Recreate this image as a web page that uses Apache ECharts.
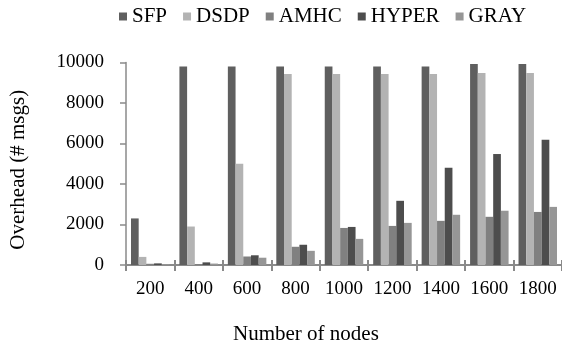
<!DOCTYPE html>
<html>
<head>
<meta charset="utf-8">
<script src="https://cdn.jsdelivr.net/npm/echarts@6/dist/echarts.min.js"></script>
<style>
html,body{margin:0;padding:0;background:#fff;}
#c{width:562px;height:345px;}
</style>
</head>
<body>
<div id="c"></div>
<script>
const categories = ['200','400','600','800','1000','1200','1400','1600','1800'];
const seriesNames = ['SFP','DSDP','AMHC','HYPER','GRAY'];
const SFP   = [2300, 9800, 9800, 9800, 9800, 9800, 9800, 9920, 9920];
const DSDP  = [400, 1900, 5000, 9430, 9430, 9430, 9430, 9480, 9480];
const AMHC  = [60, 50, 420, 900, 1830, 1930, 2180, 2380, 2620];
const HYPER = [80, 130, 480, 1000, 1880, 3170, 4800, 5480, 6180];
const GRAY  = [40, 70, 360, 700, 1290, 2080, 2480, 2680, 2870];
const yTicks = [0, 2000, 4000, 6000, 8000, 10000];

const colors = ['#5f5f5f','#b3b3b3','#808080','#4d4d4d','#969696'];
const values = [SFP, DSDP, AMHC, HYPER, GRAY];
const font = 'Liberation Serif';
const fs = 21;
const fsTick = 19;

const chart = echarts.init(document.getElementById('c'));
chart.setOption({
  animation: false,
  backgroundColor: '#fff',
  textStyle: {fontFamily: font},
  legend: {
    left: 114, top: 1,
    itemWidth: 8, itemHeight: 8, itemGap: 16,
    icon: 'rect',
    textStyle: {fontFamily: font, fontSize: fs, color: '#000'},
    data: seriesNames
  },
  grid: {left: 125, top: 62.5, bottom: 80, right: -6, containLabel: false},
  xAxis: [{
    type: 'category', data: categories,
    axisLine: {lineStyle: {color: '#8a8a8a', width: 2}},
    axisTick: {show: true, length: 6, lineStyle: {color: '#8a8a8a', width: 2}},
    axisLabel: {fontFamily: font, fontSize: fsTick, color: '#000', margin: 15, interval: 0}
  }, {
    type: 'category', data: categories, position: 'bottom',
    axisLine: {show: false},
    axisTick: {show: true, inside: true, length: 5, lineStyle: {color: '#8a8a8a', width: 2}},
    axisLabel: {show: false}
  }],
  yAxis: {
    type: 'value', min: yTicks[0], max: yTicks[yTicks.length-1], interval: 2000,
    name: 'Overhead (# msgs)', nameLocation: 'middle', nameGap: 97,
    nameTextStyle: {fontFamily: font, fontSize: fs, color: '#000', padding: [0, 12, 0, 0]},
    axisLine: {show: true, lineStyle: {color: '#8a8a8a', width: 1.5}},
    axisTick: {show: true, length: 6, lineStyle: {color: '#8a8a8a', width: 1.5}},
    axisLabel: {fontFamily: font, fontSize: fsTick, color: '#000', margin: 22,
      formatter: v => String(v)},
    splitLine: {show: false}
  },
  graphic: [{
    type: 'text', left: 233, top: 324,
    style: {text: 'Number of nodes', font: fs + 'px "' + font + '"', fill: '#000'}
  }],
  series: seriesNames.map((n, i) => ({
    name: n, type: 'bar', data: values[i], xAxisIndex: 0,
    barWidth: 7.7, barGap: '0%',
    itemStyle: {color: colors[i]}
  }))
});
</script>
</body>
</html>
